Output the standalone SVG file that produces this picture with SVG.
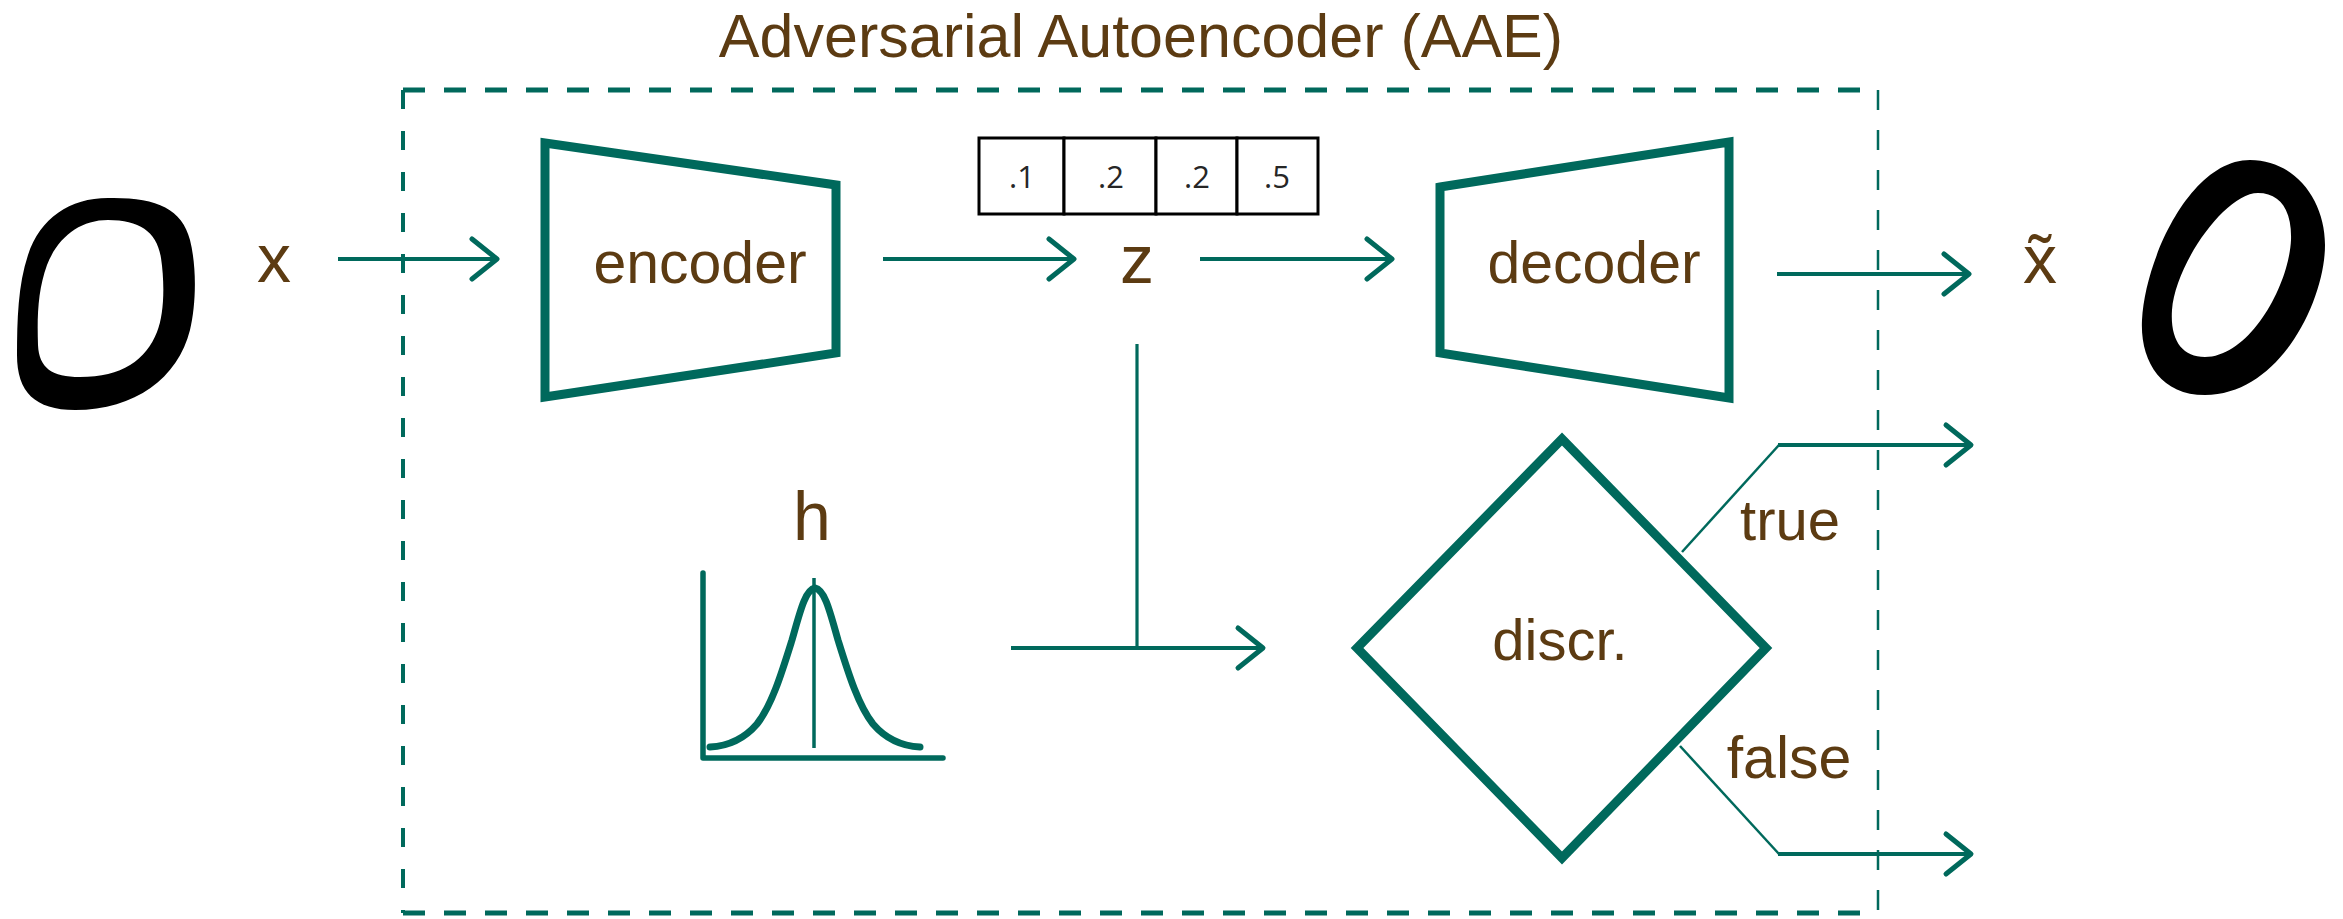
<svg xmlns="http://www.w3.org/2000/svg" width="2343" height="919" viewBox="0 0 2343 919">
  <style>
    .lbl { font-family: "Liberation Sans", Arial, sans-serif; fill: #5c3b12; text-anchor: middle; }
    .shape { fill: none; stroke: #00695c; stroke-width: 9; stroke-linejoin: miter; }
    .thin { fill: none; stroke: #00695c; stroke-width: 2.5; }
    .arrow { fill: none; stroke: #00695c; stroke-width: 4; marker-end: url(#chev); }
    .frame { fill: none; stroke: #00695c; }
    .cell { fill: #ffffff; stroke: #000000; stroke-width: 3; }
    .num { font-family: "Open Sans", "Noto Sans", sans-serif; font-size: 31px; fill: #262626; text-anchor: middle; }
    .digit { fill: #000000; fill-rule: evenodd; }
  </style>
  <defs>
    <marker id="chev" markerUnits="userSpaceOnUse" markerWidth="34" markerHeight="48" viewBox="-30 -24 34 48" refX="0" refY="0" orient="auto" overflow="visible">
      <path d="M -25 -20 L 0 0 L -25 20" fill="none" stroke="#00695c" stroke-width="5" stroke-linecap="round" stroke-linejoin="round"/>
    </marker>
  </defs>

  <rect width="2343" height="919" fill="#ffffff"/>

  <!-- title and dashed model boundary -->
  <g id="title">
    <text class="lbl" x="1141" y="57" font-size="61">Adversarial Autoencoder (AAE)</text>
  </g>
  <g id="boundary">
    <line class="frame" x1="403" y1="90" x2="1878" y2="90" stroke-width="5" stroke-dasharray="22 19"/>
    <line class="frame" x1="403" y1="913" x2="1878" y2="913" stroke-width="5" stroke-dasharray="22 19"/>
    <line class="frame" x1="403" y1="90" x2="403" y2="913" stroke-width="4" stroke-dasharray="19 22"/>
    <line class="frame" x1="1878" y1="90" x2="1878" y2="913" stroke-width="2.5" stroke-dasharray="20 20"/>
  </g>

  <!-- input digit -->
  <g id="input-digit">
    <path class="digit" d="M 108 198 C 155 197 182 208 190 240 C 197 268 196 305 190 330 C 178 378 135 410 75 410 C 35 410 17 392 17 355 C 17 320 18 285 28 255 C 40 218 70 198 108 198 Z M 108 220 C 140 220 157 232 161 258 C 165 285 164 315 157 332 C 146 360 122 377 80 377 C 52 377 39 368 38 345 C 37 315 38 290 47 265 C 58 237 80 220 108 220 Z"/>
  </g>
  <g id="x-label">
    <text class="lbl" x="274" y="282" font-size="68">x</text>
  </g>

  <!-- encoder -->
  <g id="encoder">
    <polygon class="shape" points="545,143 836,185 836,353 545,397"/>
    <text class="lbl" x="700" y="283" font-size="59">encoder</text>
  </g>

  <!-- latent code vector -->
  <g id="latent-vector">
    <rect class="cell" x="979" y="138" width="85" height="76"/>
    <rect class="cell" x="1064" y="138" width="92" height="76"/>
    <rect class="cell" x="1156" y="138" width="81" height="76"/>
    <rect class="cell" x="1237" y="138" width="81" height="76"/>
    <text class="num" x="1022" y="188">.1</text>
    <text class="num" x="1111" y="188">.2</text>
    <text class="num" x="1197" y="188">.2</text>
    <text class="num" x="1277" y="188">.5</text>
  </g>
  <g id="z-label">
    <text class="lbl" x="1137" y="283" font-size="68">z</text>
  </g>

  <!-- decoder -->
  <g id="decoder">
    <polygon class="shape" points="1440,187 1729,142 1729,398 1440,353"/>
    <text class="lbl" x="1594" y="283" font-size="59">decoder</text>
  </g>
  <g id="xtilde-label">
    <text class="lbl" x="2040" y="283" font-size="68">x̃</text>
  </g>

  <!-- reconstructed digit -->
  <g id="output-digit">
    <path class="digit" d="M 2250 160 C 2295 160 2325 200 2325 245 C 2325 300 2280 395 2205 395 C 2160 395 2140 360 2142 320 C 2145 260 2190 160 2250 160 Z M 2258 193 C 2280 193 2292 210 2291 240 C 2289 285 2250 357 2205 357 C 2182 357 2170 340 2172 310 C 2175 265 2225 193 2258 193 Z"/>
  </g>

  <!-- prior distribution h -->
  <g id="prior">
    <text class="lbl" x="812" y="540" font-size="68">h</text>
    <path d="M 703 573 L 703 758 L 943 758" fill="none" stroke="#00695c" stroke-width="5.5" stroke-linecap="round" stroke-linejoin="round"/>
    <line x1="814" y1="578" x2="814" y2="748" stroke="#00695c" stroke-width="3.5"/>
    <path d="M 710 747 C 730 746 745 738 757 724 C 772 705 782 672 792 640 C 800 612 805 590 815 588 C 825 590 830 612 838 640 C 848 672 858 705 873 724 C 885 738 900 746 920 747" fill="none" stroke="#00695c" stroke-width="7" stroke-linecap="round" stroke-linejoin="round"/>
  </g>

  <!-- discriminator -->
  <g id="discriminator">
    <polygon class="shape" points="1562,439 1766,648 1562,858 1357,648"/>
    <text class="lbl" x="1560" y="660" font-size="58">discr.</text>
  </g>
  <g id="true-label">
    <text class="lbl" x="1790" y="540" font-size="58">true</text>
  </g>
  <g id="false-label">
    <text class="lbl" x="1789" y="778" font-size="59">false</text>
  </g>

  <!-- connectors -->
  <g id="connectors">
    <line class="arrow" x1="338" y1="259" x2="497" y2="259"/>
    <line class="arrow" x1="883" y1="259" x2="1074" y2="259"/>
    <line class="arrow" x1="1200" y1="259" x2="1392" y2="259"/>
    <line class="arrow" x1="1777" y1="274" x2="1969" y2="274"/>
    <line x1="1137" y1="344" x2="1137" y2="648" stroke="#00695c" stroke-width="3.2"/>
    <line class="arrow" x1="1011" y1="648" x2="1263" y2="648"/>
    <line class="thin" x1="1682" y1="552" x2="1779" y2="445"/>
    <line class="arrow" x1="1778" y1="445" x2="1971" y2="445"/>
    <line class="thin" x1="1680" y1="746" x2="1779" y2="854"/>
    <line class="arrow" x1="1778" y1="854" x2="1971" y2="854"/>
  </g>
</svg>
